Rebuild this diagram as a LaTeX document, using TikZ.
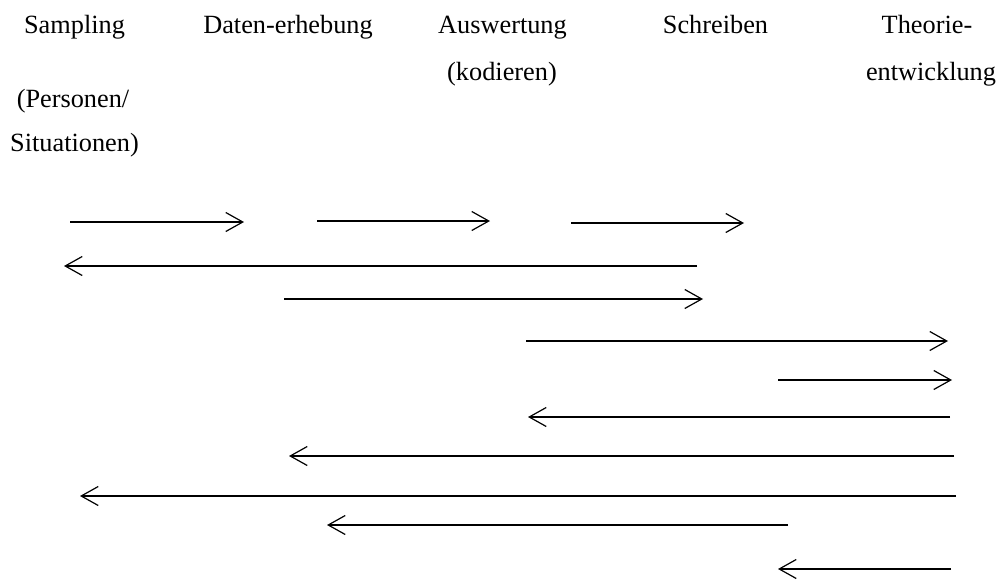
\documentclass[tikz,border=0pt]{standalone}
\usepackage{fontspec}
\setmainfont{Liberation Serif}
\usetikzlibrary{arrows.meta}
\begin{document}
\begin{tikzpicture}[x=1pt,y=-1pt,
  lbl/.style={anchor=base,inner sep=0pt,font=\fontsize{26.3}{30}\selectfont},
  flow/.style={line width=1.2pt,-{Straight Barb[length=17pt,width=19pt,line width=1.2pt]}}]
\useasboundingbox (0,0) rectangle (999,581);
% labels
\node[lbl] (t1) at (74.5,33) {Sampling};
\node[lbl] (t1b) at (73,107) {(Personen/};
\node[lbl] (t1c) at (74.5,151) {Situationen)};
\node[lbl] (t2) at (288,33) {Daten-erhebung};
\node[lbl] (t3) at (502.5,33) {Auswertung};
\node[lbl] (t3b) at (502,80) {(kodieren)};
\node[lbl] (t4) at (715.5,33) {Schreiben};
\node[lbl] (t5) at (927,33) {Theorie-};
\node[lbl] (t5b) at (931,80) {entwicklung};
% arrow end points
\coordinate (a1s) at (70,222);   \coordinate (a1e) at (244,222);
\coordinate (a2s) at (317,221);  \coordinate (a2e) at (490,221);
\coordinate (a3s) at (571,223);  \coordinate (a3e) at (744,223);
\coordinate (a4s) at (697,266);  \coordinate (a4e) at (64,266);
\coordinate (a5s) at (284,299);  \coordinate (a5e) at (703,299);
\coordinate (a6s) at (526,341);  \coordinate (a6e) at (948,341);
\coordinate (a7s) at (778,380);  \coordinate (a7e) at (952,380);
\coordinate (a8s) at (950,417);  \coordinate (a8e) at (528,417);
\coordinate (a9s) at (954,456);  \coordinate (a9e) at (289,456);
\coordinate (a10s) at (956,496); \coordinate (a10e) at (80,496);
\coordinate (a11s) at (788,525); \coordinate (a11e) at (327,525);
\coordinate (a12s) at (951,569); \coordinate (a12e) at (778,569);
\foreach \i in {1,...,12} {\draw[flow] (a\i s) -- (a\i e);}
\end{tikzpicture}
\end{document}
